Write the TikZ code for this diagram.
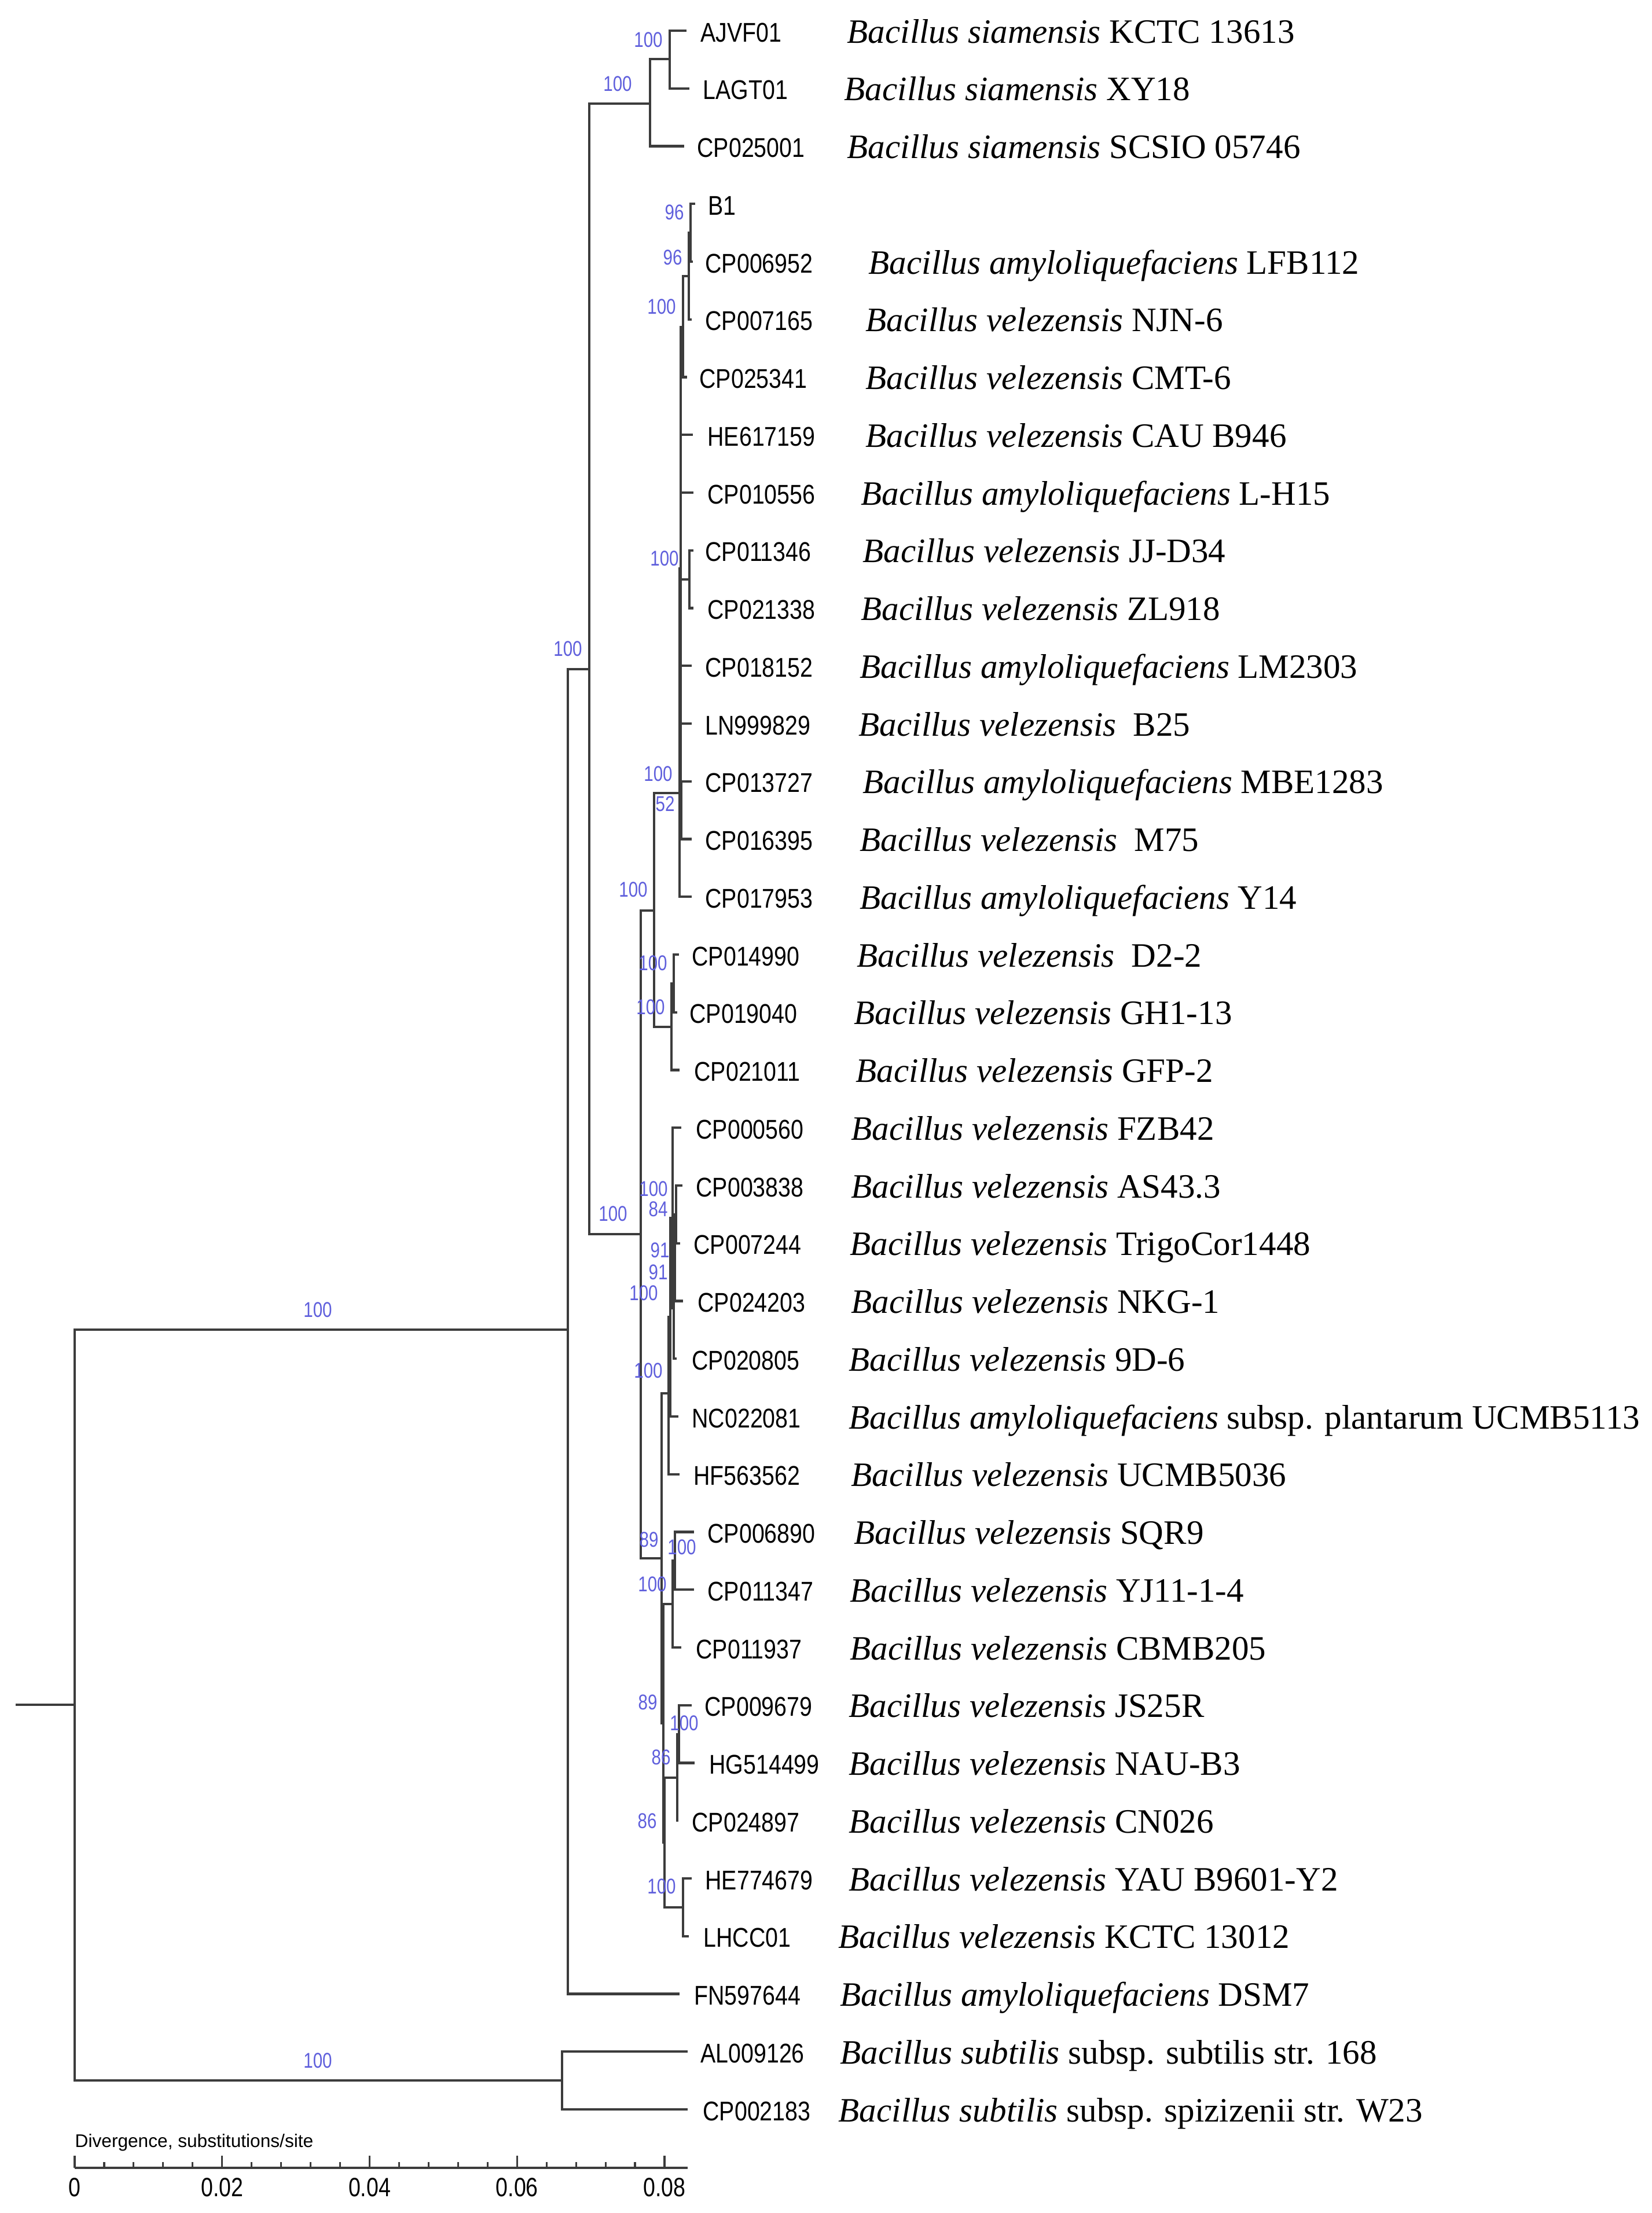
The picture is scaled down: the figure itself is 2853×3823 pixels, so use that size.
\documentclass[tikz,border=0pt]{standalone}
\usepackage{fontspec}
\setmainfont{Liberation Serif}
\setsansfont{Liberation Sans}
\definecolor{bootblue}{RGB}{95,95,220}
\definecolor{treegray}{RGB}{60,60,60}
\begin{document}
\begin{tikzpicture}[x=0.01cm,y=-0.01cm,
    branch/.style={draw=treegray,line width=1.2pt,line cap=rect},
    acc/.style={anchor=base west,inner sep=0pt,xscale=0.84,font=\sffamily\fontsize{13.3}{16}\selectfont},
    spname/.style={anchor=base west,inner sep=0pt,font=\fontsize{16.8}{20}\selectfont},
    boot/.style={inner sep=0pt,xscale=0.8,text=bootblue,font=\sffamily\fontsize{10.5}{12}\selectfont},
    ticklab/.style={anchor=base,inner sep=0pt,xscale=0.82,font=\sffamily\fontsize{13}{15}\selectfont}]
                \useasboundingbox (0,0) rectangle (2853,3823);
                \foreach \i/\tx/\ax/\sx/\accno/\strain in {
                    1/1184/1210/1463/AJVF01/{\textit{Bacillus siamensis} KCTC 13613},
                    2/1189/1214/1458/LAGT01/{\textit{Bacillus siamensis} XY18},
                    3/1180/1204/1463/CP025001/{\textit{Bacillus siamensis} SCSIO 05746},
                    4/1199/1223/1500/B1/{},
                    5/1195/1218/1500/CP006952/{\textit{Bacillus amyloliquefaciens} LFB112},
                    6/1193/1218/1495/CP007165/{\textit{Bacillus velezensis} NJN-6},
                    7/1185/1208/1495/CP025341/{\textit{Bacillus velezensis} CMT-6},
                    8/1195/1222/1495/HE617159/{\textit{Bacillus velezensis} CAU B946},
                    9/1196/1222/1487/CP010556/{\textit{Bacillus amyloliquefaciens} L-H15},
                    10/1196/1218/1490/CP011346/{\textit{Bacillus velezensis} JJ-D34},
                    11/1196/1222/1487/CP021338/{\textit{Bacillus velezensis} ZL918},
                    12/1193/1218/1485/CP018152/{\textit{Bacillus amyloliquefaciens} LM2303},
                    13/1193/1218/1483/LN999829/{\textit{Bacillus velezensis}\ \ B25},
                    14/1193/1218/1490/CP013727/{\textit{Bacillus amyloliquefaciens} MBE1283},
                    15/1193/1218/1485/CP016395/{\textit{Bacillus velezensis}\ \ M75},
                    16/1193/1218/1485/CP017953/{\textit{Bacillus amyloliquefaciens} Y14},
                    17/1171/1195/1480/CP014990/{\textit{Bacillus velezensis}\ \ D2-2},
                    18/1168/1191/1475/CP019040/{\textit{Bacillus velezensis} GH1-13},
                    19/1172/1199/1478/CP021011/{\textit{Bacillus velezensis} GFP-2},
                    20/1175/1202/1470/CP000560/{\textit{Bacillus velezensis} FZB42},
                    21/1177/1202/1470/CP003838/{\textit{Bacillus velezensis} AS43.3},
                    22/1173/1198/1468/CP007244/{\textit{Bacillus velezensis} TrigoCor1448},
                    23/1178/1205/1470/CP024203/{\textit{Bacillus velezensis} NKG-1},
                    24/1167/1195/1466/CP020805/{\textit{Bacillus velezensis} 9D-6},
                    25/1170/1195/1466/NC022081/{\textit{Bacillus amyloliquefaciens} subsp. plantarum UCMB5113},
                    26/1172/1198/1470/HF563562/{\textit{Bacillus velezensis} UCMB5036},
                    27/1197/1222/1475/CP006890/{\textit{Bacillus velezensis} SQR9},
                    28/1197/1222/1468/CP011347/{\textit{Bacillus velezensis} YJ11-1-4},
                    29/1175/1202/1468/CP011937/{\textit{Bacillus velezensis} CBMB205},
                    30/1193/1217/1466/CP009679/{\textit{Bacillus velezensis} JS25R},
                    31/1198/1225/1466/HG514499/{\textit{Bacillus velezensis} NAU-B3},
                    32/1170/1195/1466/CP024897/{\textit{Bacillus velezensis} CN026},
                    33/1193/1218/1466/HE774679/{\textit{Bacillus velezensis} YAU B9601-Y2},
                    34/1188/1215/1448/LHCC01/{\textit{Bacillus velezensis} KCTC 13012},
                    35/1172/1199/1451/FN597644/{\textit{Bacillus amyloliquefaciens} DSM7},
                    36/1186/1210/1451/AL009126/{\textit{Bacillus subtilis} subsp. subtilis str. 168},
                    37/1186/1214/1448/CP002183/{\textit{Bacillus subtilis} subsp. spizizenii str. W23}}{
                    \pgfmathsetmacro\ly{53+(\i-1)*99.75}
                    \coordinate (t\i) at (\tx,\ly);
                    \node[acc] (acc\i) at (\ax,\ly+19) {\accno};
                    \node[spname] (sp\i) at (\sx,\ly+21) {\strain};
                }
                \coordinate (stub) at (29,2945);
                \coordinate (root) at (129,2945);
                \coordinate (nOut) at (971,3594);
                \coordinate (nAmy) at (981,2297);
                \coordinate (nCore) at (1018,1156);
                \coordinate (nSia) at (1123,179);
                \coordinate (nSia2) at (1157,102);
                \coordinate (nVel) at (1107,2132);
                \coordinate (nVelA) at (1130,1573);
                \coordinate (nA) at (1174,1370);
                \coordinate (nA1) at (1176,982);
                \coordinate (nA3) at (1180,565);
                \coordinate (nA2) at (1190,477);
                \coordinate (nB1) at (1193,402);
                \coordinate (nA5) at (1191,1001);
                \coordinate (nA13) at (1177,1400);
                \coordinate (nD) at (1160,1774);
                \coordinate (nD1) at (1164,1699);
                \coordinate (nVelB) at (1143,2692);
                \coordinate (nP) at (1155,2407);
                \coordinate (nR) at (1158,2275);
                \coordinate (nU4) at (1162,2104);
                \coordinate (nU3) at (1164,2260);
                \coordinate (nU2) at (1166,2173);
                \coordinate (nU1) at (1168,2098);
                \coordinate (nQ) at (1146,2977);
                \coordinate (nQ1) at (1162,2771);
                \coordinate (nQ1a) at (1166,2696);
                \coordinate (nQ2) at (1148,3183);
                \coordinate (nQ2a) at (1170,3071);
                \coordinate (nQ2c) at (1173,2996);
                \coordinate (nQ2b) at (1180,3295);
                \draw[branch] (stub) -- (root);
                \foreach \p/\c in {root/nAmy,root/nOut,nOut/t36,nOut/t37,nAmy/nCore,nAmy/t35,
                    nCore/nSia,nCore/nVel,nSia/nSia2,nSia/t3,nSia2/t1,nSia2/t2,
                    nVel/nVelA,nVel/nVelB,nVelA/nA,nVelA/nD,nA/nA1,nA/t16,
                    nA1/nA3,nA1/t8,nA1/t9,nA1/nA5,nA1/t12,nA1/t13,nA1/nA13,
                    nA3/nA2,nA3/t7,nA2/nB1,nA2/t6,nB1/t4,nB1/t5,nA5/t10,nA5/t11,nA13/t14,nA13/t15,
                    nD/nD1,nD/t19,nD1/t17,nD1/t18,nVelB/nP,nVelB/nQ,nP/nR,nP/t26,nR/nU4,nR/t25,
                    nU4/t20,nU4/nU3,nU3/nU2,nU3/t24,nU2/nU1,nU2/t23,nU1/t21,nU1/t22,
                    nQ/nQ1,nQ/nQ2,nQ1/nQ1a,nQ1/t29,nQ1a/t27,nQ1a/t28,nQ2/nQ2a,nQ2/nQ2b,
                    nQ2a/nQ2c,nQ2a/t32,nQ2c/t30,nQ2c/t31,nQ2b/t33,nQ2b/t34}
                    \draw[branch] (\p) |- (\c);
                \foreach \k/\bx/\by/\bv in {1/1120/69/100,2/1067/145/100,3/1165/367/96,4/1162/445/96,
                    5/1143/530/100,6/1148/965/100,7/981/1121/100,8/1137/1337/100,9/1149/1389/52,
                    10/1094/1537/100,11/1128/1664/100,12/1124/1740/100,13/1129/2054/100,14/1137/2089/84,
                    15/1059/2097/100,16/1140/2160/91,17/1137/2198/91,18/1112/2234/100,19/1120/2368/100,
                    20/1121/2660/89,21/1178/2673/100,22/1127/2737/100,23/1119/2941/89,24/1182/2977/100,
                    25/1142/3036/86,26/1118/3146/86,27/1143/3259/100,28/549/2263/100,29/549/3560/100}
                    \node[boot] (bs\k) at (\bx,\by) {\bv};
                \coordinate (ax0) at (129,3745);
                \coordinate (ax1) at (1188,3745);
                \draw[treegray,line width=1.3pt] (ax0) -- (ax1);
                \foreach \k in {0,...,20}{
                    \pgfmathtruncatemacro\ismaj{mod(\k,5)==0}
                    \ifnum\ismaj=1
                        \draw[treegray,line width=0.9pt] (129+\k*50.95,3745) -- ++(0,-21);
                    \else
                        \draw[treegray,line width=0.9pt] (129+\k*50.95,3745) -- ++(0,-10);
                    \fi
                }
                \foreach \k/\lab in {0/0,1/0.02,2/0.04,3/0.06,4/0.08}
                    \node[ticklab] (tl\k) at (129+\k*254.75,3794) {\lab};
                \node[anchor=base west,inner sep=0pt,font=\sffamily\fontsize{9}{11}\selectfont] (divlab) at (129,3709) {Divergence, substitutions/site};
            \end{tikzpicture}
\end{document}
